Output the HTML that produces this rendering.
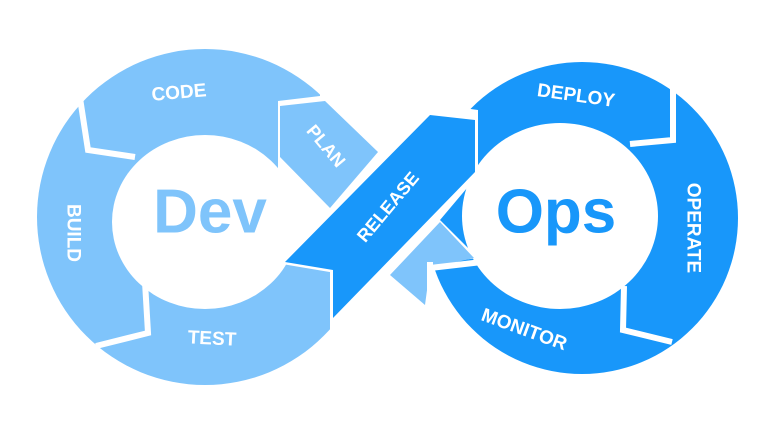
<!DOCTYPE html>
<html><head><meta charset="utf-8"><style>
html,body{margin:0;padding:0;background:#fff;width:768px;height:432px;overflow:hidden}
svg{display:block}
text{font-family:"Liberation Sans",sans-serif;font-weight:bold;fill:#fff;text-anchor:middle;dominant-baseline:central}
</style></head><body>
<svg width="768" height="432" viewBox="0 0 768 432" xmlns="http://www.w3.org/2000/svg">
<!-- left ring -->
<circle cx="205" cy="217" r="168" fill="#7fc4fb"/>
<ellipse cx="205" cy="222" rx="93" ry="87" fill="#fff"/>
<polygon points="320,30 420,30 420,420 330,420 330,268 285,262 278,240 278,101 320,96" fill="#fff"/>
<!-- PLAN -->
<polygon points="280,106 325,101 378,152 330,208 280,157" fill="#7fc4fb"/>
<!-- right ring -->
<circle cx="582" cy="218" r="156" fill="#1897fa"/>
<polygon points="380,30 442,30 442,105 478,110 478,175 440,220 478,258 432,264 430,340 380,340" fill="#fff"/>
<ellipse cx="560" cy="216" rx="98" ry="93" fill="#fff"/>
<!-- light piece under release -->
<polygon points="440,222 474,258 430,268 425,305 390,275" fill="#7fc4fb"/>
<!-- separators -->
<g fill="none" stroke="#fff" stroke-width="6">
<polyline points="80,98 88,150 135,157"/>
<polyline points="145,282 148,333 96,346"/>
<polyline points="673,80 673,140 630,144"/>
<polyline points="624,286 623,330 672,342"/>
<polyline points="430,262 430,318"/>
<polyline points="430,268 482,262"/>
</g>
<!-- release -->
<polygon points="430,115 475,120 475,172 333,318 333,270 285,262" fill="#1897fa" stroke="#fff" stroke-width="5" stroke-linejoin="miter"/>
<polygon points="430,115 475,120 475,172 333,318 333,270 285,262" fill="#1897fa"/>
<!-- center texts -->
<text x="210" y="212" style="font-size:62px;fill:#7fc4fb">Dev</text>
<text x="556" y="212" style="font-size:62px;fill:#1897fa">Ops</text>
<!-- labels -->
<text x="179" y="93" font-size="19" transform="rotate(-5 179 93)">CODE</text>
<text x="326" y="146" font-size="18" transform="rotate(50 326 146)">PLAN</text>
<text x="73" y="233" font-size="19" transform="rotate(90 73 233)">BUILD</text>
<text x="212" y="339" font-size="19" transform="rotate(3 212 339)">TEST</text>
<text x="388" y="207" font-size="18" transform="rotate(-50 388 207)">RELEASE</text>
<text x="576" y="96" font-size="19" transform="rotate(8 576 96)">DEPLOY</text>
<text x="693" y="228" font-size="19" transform="rotate(90 693 228)">OPERATE</text>
<text x="524" y="330" font-size="19" transform="rotate(20 524 330)">MONITOR</text>
</svg>
</body></html>
